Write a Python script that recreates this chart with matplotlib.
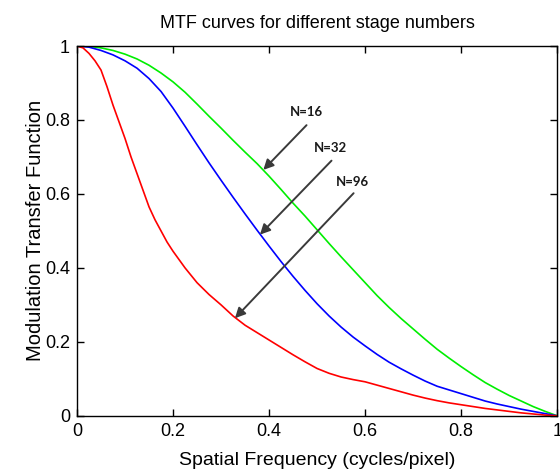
import matplotlib
matplotlib.use("Agg")
import matplotlib.pyplot as plt
from matplotlib.ticker import FuncFormatter

plt.rcParams['font.family'] = ['Liberation Sans', 'DejaVu Sans']

# values
freq = [0, 0.025, 0.05, 0.075, 0.1, 0.125, 0.15, 0.175, 0.2, 0.225, 0.25,
        0.275, 0.3, 0.325, 0.35, 0.375, 0.4, 0.425, 0.45, 0.475, 0.5,
        0.525, 0.55, 0.575, 0.6, 0.625, 0.65, 0.675, 0.7, 0.725, 0.75,
        0.775, 0.8, 0.825, 0.85, 0.875, 0.9, 0.925, 0.95, 0.975, 1.0]
mtf_16 = [1.0, 0.999, 0.995, 0.988, 0.978, 0.965, 0.948, 0.927, 0.903, 0.875, 0.843,
          0.81, 0.778, 0.745, 0.713, 0.682, 0.648, 0.612, 0.575, 0.54, 0.503,
          0.466, 0.43, 0.395, 0.36, 0.325, 0.293, 0.263, 0.235, 0.207, 0.18,
          0.156, 0.133, 0.111, 0.09, 0.072, 0.055, 0.04, 0.025, 0.012, 0.0]
mtf_32 = [1.0, 0.997, 0.988, 0.976, 0.96, 0.94, 0.912, 0.877, 0.832, 0.783, 0.733,
          0.684, 0.637, 0.591, 0.546, 0.502, 0.459, 0.417, 0.377, 0.339, 0.303,
          0.27, 0.24, 0.213, 0.189, 0.166, 0.145, 0.127, 0.11, 0.094, 0.08,
          0.07, 0.06, 0.05, 0.04, 0.032, 0.025, 0.018, 0.012, 0.006, 0.0]

freq_96 = [0, 0.0125, 0.025, 0.0375, 0.05, 0.0625, 0.075, 0.0875, 0.1, 0.1125,
           0.125, 0.1375, 0.15, 0.1625, 0.175, 0.1875, 0.2, 0.225, 0.25, 0.275,
           0.3, 0.325, 0.35, 0.375, 0.4, 0.425, 0.45, 0.475, 0.5, 0.525, 0.55,
           0.575, 0.6, 0.625, 0.65, 0.675, 0.7, 0.725, 0.75, 0.775, 0.8, 0.825,
           0.85, 0.875, 0.9, 0.925, 0.95, 0.975, 1.0]
mtf_96 = [1.0, 0.995, 0.98, 0.96, 0.935, 0.89, 0.84, 0.795, 0.75, 0.70,
          0.655, 0.61, 0.565, 0.53, 0.50, 0.47, 0.445, 0.40, 0.36, 0.328,
          0.30, 0.27, 0.245, 0.225, 0.205, 0.185, 0.165, 0.146, 0.128, 0.115, 0.105,
          0.098, 0.092, 0.083, 0.074, 0.065, 0.056, 0.048, 0.041, 0.035, 0.03, 0.025,
          0.02, 0.016, 0.012, 0.008, 0.005, 0.002, 0.0]

labels = ['N=16', 'N=32', 'N=96']
label_pos = [(0.477, 0.821), (0.527, 0.723), (0.574, 0.633)]
arrow_tail = [(0.478, 0.786), (0.530, 0.690), (0.576, 0.602)]
arrow_head = [(0.388, 0.665), (0.381, 0.490), (0.329, 0.264)]

fig = plt.figure(figsize=(5.6, 4.72), dpi=100)
ax = fig.add_axes([0.1375, 0.119, 0.8575, 0.7835])

ax.plot(freq, mtf_16, color='#00ee00', lw=1.2)
ax.plot(freq, mtf_32, color='#0000ff', lw=1.2)
ax.plot(freq_96, mtf_96, color='#ff0000', lw=1.2)

# arrows pointing from each label to its curve
for lab, lp, tail, head in zip(labels, label_pos, arrow_tail, arrow_head):
    ax.annotate('', xy=head, xytext=tail,
                arrowprops=dict(arrowstyle='-|>,head_length=0.6,head_width=0.3',
                                color='#3a3a3a', lw=1.4, shrinkA=0, shrinkB=0))
    ax.text(lp[0], lp[1], lab, ha='center', va='center', fontsize=9.5,
            fontweight='bold', family=['Lato', 'DejaVu Sans'], color='#1a1a1a')

ax.set_xlim(0, 1)
ax.set_ylim(0, 1)
ax.set_xticks([0, 0.2, 0.4, 0.6, 0.8, 1])
ax.set_yticks([0, 0.2, 0.4, 0.6, 0.8, 1])
fmt = FuncFormatter(lambda v, p: ('%g' % round(v, 2)))
ax.xaxis.set_major_formatter(fmt)
ax.yaxis.set_major_formatter(fmt)
ax.tick_params(direction='in', top=True, right=True, length=5, width=1,
               labelsize=13, pad=5)
for s in ax.spines.values():
    s.set_linewidth(1)

ax.set_xlabel('Spatial Frequency (cycles/pixel)', fontsize=14, labelpad=9)
ax.set_ylabel('Modulation Transfer Function', fontsize=14.5, labelpad=0)
ax.set_title('MTF curves for different stage numbers', fontsize=13, pad=13)

fig.savefig('out.png', dpi=100)
